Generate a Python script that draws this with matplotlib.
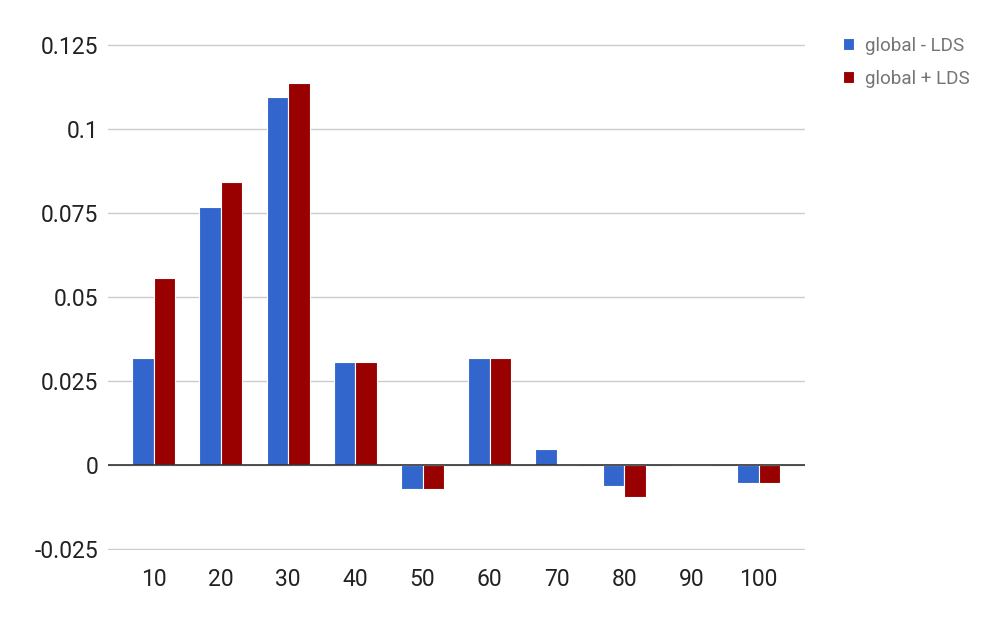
import numpy as np
import matplotlib.pyplot as plt

plt.rcParams['font.family'] = ['Roboto', 'DejaVu Sans']

categories = ['10', '20', '30', '40', '50', '60', '70', '80', '90', '100']
global_minus_lds = [0.0318, 0.0768, 0.1095, 0.0307, -0.0072, 0.0318, 0.0047, -0.0064, 0.0, -0.0055]
global_plus_lds = [0.0556, 0.0842, 0.1137, 0.0307, -0.0072, 0.0318, 0.0, -0.0096, 0.0, -0.0055]
yticks = [-0.025, 0, 0.025, 0.05, 0.075, 0.1, 0.125]
ytick_labels = ['-0.025', '0', '0.025', '0.05', '0.075', '0.1', '0.125']

blue = '#3366cc'
red = '#990000'

fig = plt.figure(figsize=(10.05, 6.21), dpi=100)
ax = fig.add_axes([108/1005, 71/621, 697/1005, 506/621])

x = np.arange(len(categories))
w = 0.32
ax.bar(x - w/2, global_minus_lds, w, color=blue, edgecolor='white', linewidth=0.8,
       label='global - LDS', zorder=3)
ax.bar(x + w/2, global_plus_lds, w, color=red, edgecolor='white', linewidth=0.8,
       label='global + LDS', zorder=3)

ax.set_xlim(-0.68, 9.69)
ax.set_ylim(-0.0253, 0.1253)
ax.set_yticks(yticks)
ax.set_yticklabels(ytick_labels)
ax.set_xticks(x)
ax.set_xticklabels(categories)
ax.tick_params(axis='both', length=0, labelsize=16.5, colors='#222222')
ax.tick_params(axis='y', pad=7)
ax.tick_params(axis='x', pad=13)

ax.grid(axis='y', color='#cccccc', linewidth=1, zorder=0)
ax.axhline(0, color='#333333', linewidth=1.2, zorder=4)
for s in ax.spines.values():
    s.set_visible(False)

leg = fig.legend(loc='upper left', bbox_to_anchor=(826/1005, 1 - 20/621), frameon=False,
                 handlelength=0.6, handleheight=0.6, handletextpad=0.55,
                 labelspacing=0.8, fontsize=13.6, labelcolor='#757575')

fig.savefig('out.png', dpi=100)
